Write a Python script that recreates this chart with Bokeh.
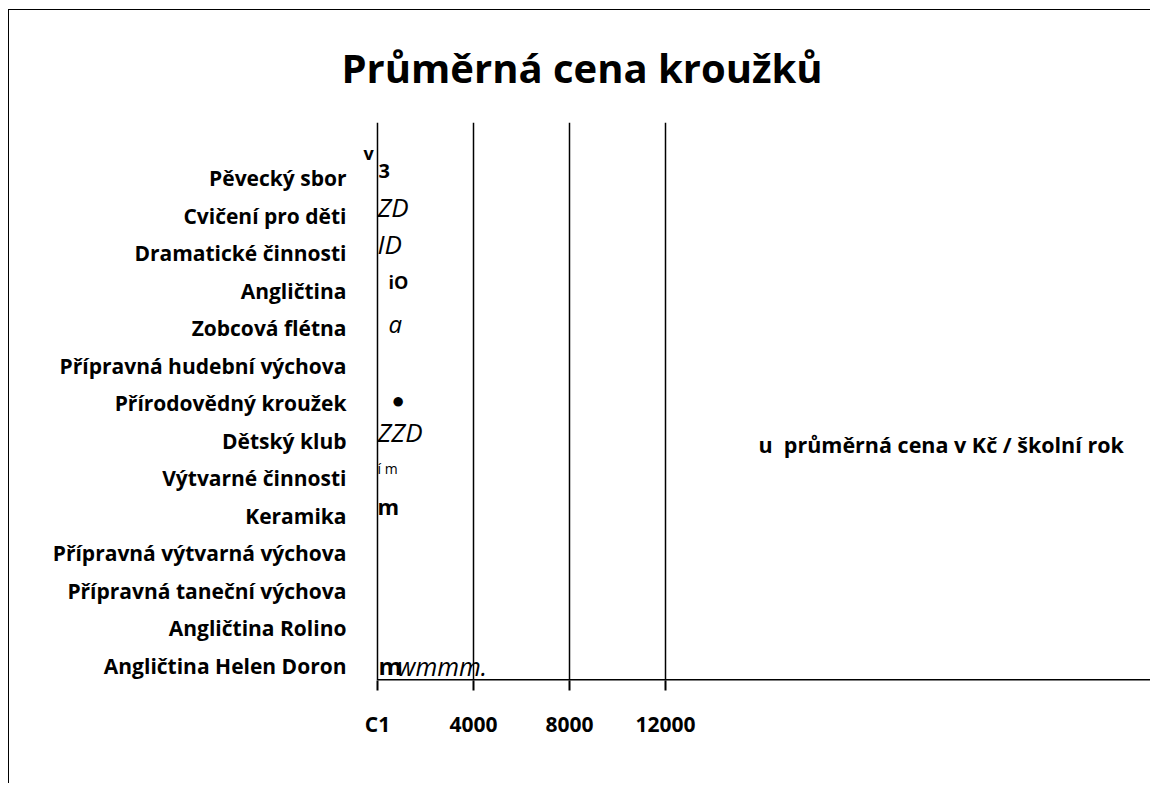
from bokeh.plotting import figure
from bokeh.models import ColumnDataSource, Label, FixedTicker, Range1d, Span, Title
from bokeh.embed import file_html
from bokeh.resources import INLINE
from bokeh.core.properties import value

# ---------------- data ----------------
title_text = "Průměrná cena kroužků"
legend_text = "u\u00a0\u00a0průměrná cena v Kč / školní rok"
categories = [
    "Pěvecký sbor", "Cvičení pro děti", "Dramatické činnosti", "Angličtina",
    "Zobcová flétna", "Přípravná hudební výchova", "Přírodovědný kroužek",
    "Dětský klub", "Výtvarné činnosti", "Keramika", "Přípravná výtvarná výchova",
    "Přípravná taneční výchova", "Angličtina Rolino", "Angličtina Helen Doron",
]
x_ticks = [0, 4000, 8000, 12000]
x_tick_labels = ["C1", "4000", "8000", "12000"]
# residual glyphs printed at the start of each bar row
mark_cats = [
    "Pěvecký sbor", "Cvičení pro děti", "Dramatické činnosti", "Angličtina",
    "Zobcová flétna", "Přírodovědný kroužek", "Dětský klub", "Výtvarné činnosti",
    "Keramika", "Angličtina Helen Doron", "Angličtina Helen Doron",
]
mark_texts = ["3", "ZD", "ID", "iO", "a", "●", "ZZD", "í m", "m", "m", "wmmm."]
mark_values = [0, 0, 0, 0, 0, 0, 0, 0, 0, 0, 0]
stray_text = "v"

# ---------------- styles ----------------
FONT = "Open Sans"
X0, X1 = -708, 32250
Y0, Y1 = -0.4, 14.48
mark_style = {
    "3": ("bold", "20px", 1, -7),
    "ZD": ("italic", "26px", 0, -9),
    "ID": ("italic", "26px", 0, -9),
    "iO": ("bold", "18px", 11, -9),
    "a": ("italic", "24px", 11, -5),
    "●": ("normal", "22px", 14, -4),
    "ZZD": ("italic", "26px", 0, -9),
    "í m": ("normal", "14px", 0, -10),
    "m": ("bold", "22px", 0, -10),
    "wmmm.": ("italic", "25px", 20, 0),
}
mark_style_hd_m = ("bold", "24px", 1, 0)

n = len(categories)
ypos = {c: n - 1 - i for i, c in enumerate(categories)}

mys, styles_, sizes, xo, yo = [], [], [], [], []
for c, t in zip(mark_cats, mark_texts):
    mys.append(ypos[c])
    st = mark_style_hd_m if (c == "Angličtina Helen Doron" and t == "m") else mark_style[t]
    styles_.append(st[0]); sizes.append(st[1]); xo.append(st[2]); yo.append(st[3])

src = ColumnDataSource(dict(x=mark_values, y=mys, text=mark_texts,
                            fs=styles_, sz=sizes, xo=xo, yo=yo))

p = figure(width=1142, height=774, output_backend="svg", toolbar_location=None,
           x_range=Range1d(X0, X1), y_range=Range1d(Y0, Y1),
           min_border_left=351, min_border_top=112, min_border_bottom=104,
           min_border_right=0,
           styles={"border-top": "1px solid black", "border-left": "1px solid black",
                   "margin-left": "8px", "margin-top": "9px"})
p.outline_line_color = None
p.background_fill_color = "white"
p.border_fill_color = "white"

p.title = Title(text=title_text, align="left", offset=-19, standoff=55,
                text_font=FONT, text_font_style="bold", text_font_size="40px",
                text_color="black")

p.text(x="x", y="y", text="text", source=src, text_font=value(FONT),
       text_font_style="fs", text_font_size="sz", x_offset="xo", y_offset="yo",
       text_align="left", text_baseline="middle", text_color="black")

# x axis
p.xaxis.ticker = FixedTicker(ticks=x_ticks)
p.xaxis.major_label_overrides = {t: l for t, l in zip(x_ticks, x_tick_labels)}
p.xaxis.major_label_text_font = FONT
p.xaxis.major_label_text_font_style = "bold"
p.xaxis.major_label_text_font_size = "21px"
p.xaxis.major_label_text_color = "black"
p.xaxis.major_label_standoff = 19
p.xaxis.major_tick_in = 0
p.xaxis.major_tick_out = 10
p.xaxis.major_tick_line_width = 2
p.xaxis.major_tick_line_color = "black"
p.xaxis.minor_tick_line_color = None
p.xaxis.axis_line_color = None
p.segment(x0=[0], y0=[Y0], x1=[X1], y1=[Y0], line_color="black", line_width=3)

# y axis
p.yaxis.ticker = FixedTicker(ticks=list(range(n)))
p.yaxis.major_label_overrides = {ypos[c]: c for c in categories}
p.yaxis.major_label_text_font = FONT
p.yaxis.major_label_text_font_style = "bold"
p.yaxis.major_label_text_font_size = "21px"
p.yaxis.major_label_text_color = "black"
p.yaxis.major_label_standoff = 8
p.yaxis.major_tick_line_color = None
p.yaxis.minor_tick_line_color = None
p.yaxis.axis_line_color = None
p.add_layout(Span(location=0, dimension="height", line_color="black", line_width=1.5))

# grid
p.xgrid.ticker = FixedTicker(ticks=x_ticks[1:])
p.xgrid.grid_line_color = "black"
p.xgrid.grid_line_width = 1.5
p.ygrid.grid_line_color = None

# legend text and stray glyph
p.add_layout(Label(x=15875, y=5.89, text=legend_text, text_font=FONT,
                   text_font_style="bold", text_font_size="21.5px",
                   text_align="left", text_baseline="middle", text_color="black"))
p.add_layout(Label(x=-583, y=13.68, text=stray_text, text_font=FONT,
                   text_font_style="bold", text_font_size="18px",
                   text_align="left", text_baseline="middle", text_color="black"))

open("out.html", "w").write(file_html(p, INLINE))
